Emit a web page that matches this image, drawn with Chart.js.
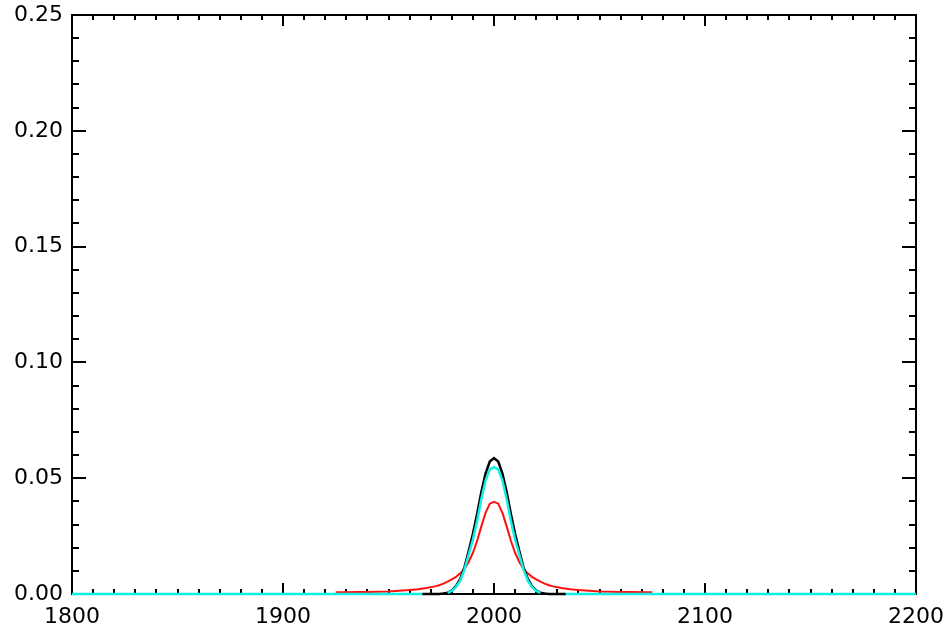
<!DOCTYPE html>
<html>
<head>
<meta charset="utf-8">
<script src="https://cdn.jsdelivr.net/npm/chart.js@4.4.1/dist/chart.umd.min.js"></script>
<style>
  html, body { margin: 0; padding: 0; background: #fff; }
  canvas { display: block; }
</style>
</head>
<body>
<canvas id="chart" width="948" height="630"></canvas>
<script>
// ---- data ----
const xTicks = [1800, 1900, 2000, 2100, 2200];
const yTicks = [0.00, 0.05, 0.10, 0.15, 0.20, 0.25];

// cyan profile: flat zero on both sides, the black one shows through in the gap near the base
const cyanX = [1800, 1966, 1967, 1978, 1980, 1982, 1984, 1986, 1988, 1990, 1992, 1994, 1996, 1998, 2000,
  2002, 2004, 2006, 2008, 2010, 2012, 2014, 2016, 2018, 2020, 2022, 2033, 2034, 2200];
const cyanY = [0, 0, null, 0.0005, 0.0013, 0.0030, 0.0058, 0.0105, 0.0170, 0.0235, 0.0315, 0.0410, 0.0490, 0.0538, 0.0548,
  0.0538, 0.0490, 0.0410, 0.0315, 0.0235, 0.0170, 0.0105, 0.0058, 0.0030, 0.0013, 0.0005, null, 0, 0];

// black profile
const blackX = [1966, 1974, 1976, 1978, 1980, 1982, 1984, 1986, 1988, 1990, 1992, 1994, 1996, 1998, 2000,
  2002, 2004, 2006, 2008, 2010, 2012, 2014, 2016, 2018, 2020, 2022, 2024, 2026, 2034];
const blackY = [0, 0, 0.0002, 0.0006, 0.0015, 0.0034, 0.0065, 0.0115, 0.0185, 0.0260, 0.0345, 0.0440, 0.0520, 0.0572, 0.0587,
  0.0572, 0.0520, 0.0440, 0.0345, 0.0260, 0.0185, 0.0115, 0.0065, 0.0034, 0.0015, 0.0006, 0.0002, 0, 0];

// red profile (broad wings)
const redX = [1925, 1930, 1935, 1940, 1945, 1950, 1955, 1960, 1964, 1968, 1972, 1974, 1976, 1978, 1980, 1982, 1984,
  1986, 1988, 1990, 1992, 1994, 1996, 1998, 2000, 2002, 2004, 2006, 2008, 2010, 2012, 2014, 2016, 2018,
  2020, 2022, 2024, 2026, 2028, 2032, 2036, 2040, 2045, 2050, 2055, 2060, 2065, 2070, 2075];
const redY = [0.0008, 0.0008, 0.0009, 0.0009, 0.0010, 0.0011, 0.0014, 0.0017, 0.0021, 0.0026, 0.0033, 0.0038, 0.0045,
  0.0053, 0.0063, 0.0074, 0.0089, 0.0108, 0.0138, 0.0178, 0.0230, 0.0292, 0.0350, 0.0390, 0.0398, 0.0390,
  0.0350, 0.0292, 0.0230, 0.0178, 0.0138, 0.0108, 0.0089, 0.0074, 0.0063, 0.0053, 0.0045, 0.0038, 0.0033,
  0.0026, 0.0021, 0.0017, 0.0014, 0.0011, 0.0010, 0.0009, 0.0009, 0.0008, 0.0008];

const toPoints = (xs, ys) => xs.map((x, i) => ({ x, y: ys[i] }));

// frame + inward ticks on all four sides, IDL style (under the curves)
const frameTicks = {
  id: "frameTicks",
  beforeDatasetsDraw(chart) {
    const { ctx, chartArea: a, scales: { x, y } } = chart;
    ctx.save();
    ctx.strokeStyle = "#000";
    ctx.lineWidth = 2;
    ctx.strokeRect(a.left, a.top, a.right - a.left, a.bottom - a.top);
    ctx.beginPath();
    for (let v = 1800; v <= 2200; v += 10) {
      const px = Math.round(x.getPixelForValue(v));
      const len = v % 100 === 0 ? 11 : 5;
      ctx.moveTo(px, a.bottom); ctx.lineTo(px, a.bottom - len);
      ctx.moveTo(px, a.top); ctx.lineTo(px, a.top + len);
    }
    for (let k = 0; k <= 25; k++) {
      const py = Math.round(y.getPixelForValue(k / 100));
      const len = k % 5 === 0 ? 14 : 7;
      ctx.moveTo(a.left, py); ctx.lineTo(a.left + len, py);
      ctx.moveTo(a.right, py); ctx.lineTo(a.right - len, py);
    }
    ctx.stroke();
    ctx.restore();
  }
};

const font = { family: "DejaVu Sans", size: 22 };

new Chart(document.getElementById("chart"), {
  type: "line",
  data: {
    datasets: [
      {
        data: toPoints(cyanX, cyanY),
        borderColor: "#10eee6",
        borderWidth: 2.5,
        pointRadius: 0,
        spanGaps: false,
        clip: false,
        order: 0
      },
      {
        data: toPoints(blackX, blackY),
        borderColor: "#000",
        borderWidth: 2.5,
        pointRadius: 0,
        clip: false,
        order: 1
      },
      {
        data: toPoints(redX, redY),
        borderColor: "#ff1010",
        borderWidth: 2,
        pointRadius: 0,
        clip: false,
        order: 2
      }
    ]
  },
  options: {
    responsive: false,
    animation: false,
    layout: { padding: { top: 15, right: 32, left: 0, bottom: 0 } },
    plugins: {
      legend: { display: false },
      tooltip: { enabled: false }
    },
    scales: {
      x: {
        type: "linear",
        min: 1800,
        max: 2200,
        afterBuildTicks: s => { s.ticks = xTicks.map(v => ({ value: v })); },
        ticks: { font, color: "#000", padding: 10, maxRotation: 0, autoSkip: false, callback: v => String(v) },
        grid: { display: false, drawTicks: false },
        border: { display: false },
        afterFit: s => { s.height = 36; s.paddingLeft = 0; s.paddingRight = 0; }
      },
      y: {
        min: 0,
        max: 0.25,
        afterBuildTicks: s => { s.ticks = yTicks.map(v => ({ value: v })); },
        ticks: { font, color: "#000", padding: 9, callback: v => v.toFixed(2) },
        grid: { display: false, drawTicks: false },
        border: { display: false },
        afterFit: s => { s.width = 72; s.paddingTop = 0; s.paddingBottom = 0; }
      }
    }
  },
  plugins: [frameTicks]
});
</script>
</body>
</html>
